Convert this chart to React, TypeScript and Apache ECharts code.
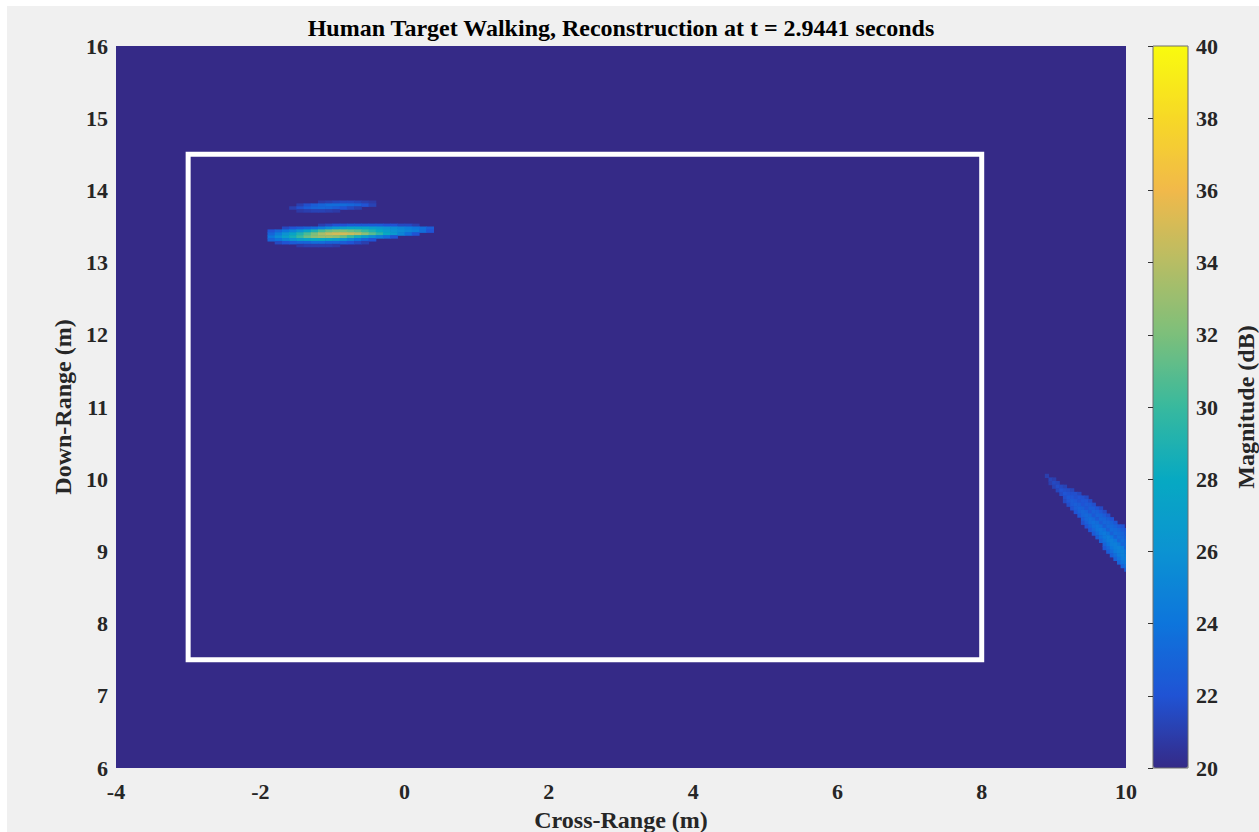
import React, { useEffect, useRef } from "react";
import * as echarts from "echarts";

// Axis ranges and ticks
const xRange = [-4, 10];
const yRange = [6, 16];
const xTickStep = 2;
const yTickStep = 1;
const colorRange = [20, 40];
const colorTickStep = 2;

// Scene boundary drawn as a white box (corners in metres)
const boxX = [-3, -3, 8, 8, -3];
const boxY = [7.5, 14.5, 14.5, 7.5, 7.5];

// Parula colour map stops
const parula = [
  "#352a87", "#2053d4", "#0d75dc", "#0c93d2", "#07a9c2", "#38b99e",
  "#7cbf7b", "#b7bd64", "#f1b94a", "#f7d826", "#f9fb0e",
];

type Row = { y: number; x0: number; v: number[] };

// Main return of the walking target (dB), rows of cells along cross-range
const mainBlobRows: Row[] = [
  { y: 13.52, x0: -1.15, v: [21, 21.5, 22, 22, 22.5, 22.5, 22.5, 22.5, 22.5, 22, 22, 21.5, 21.5, 21] },
  { y: 13.48, x0: -1.65, v: [21.5, 22, 22.5, 23, 23.5, 24.5, 25.5, 26.5, 27, 27.5, 27.5, 27.5, 27, 26.5, 26, 25.5, 25, 24.5, 24, 23.5, 22.5] },
  { y: 13.44, x0: -1.85, v: [22, 23, 24, 25, 26, 27.5, 29, 30.5, 31.5, 32, 32, 31.5, 31, 30, 29, 28, 27, 26, 25.5, 25, 24.5, 23.5, 22] },
  { y: 13.4, x0: -1.85, v: [23, 24.5, 26, 27.5, 29, 30.5, 32, 33.5, 34.5, 35, 35, 34.5, 34, 32.5, 31, 29.5, 28, 26.5, 25, 23.5, 22] },
  { y: 13.36, x0: -1.85, v: [24, 25.5, 27, 28.5, 30, 31.5, 32.5, 33, 33, 32.5, 31.5, 30, 28.5, 27, 25.5, 24.5, 23.5, 22] },
  { y: 13.32, x0: -1.85, v: [23, 24, 25, 26, 27, 27.5, 28, 28, 27.5, 27, 26, 25, 24, 23, 22] },
  { y: 13.28, x0: -1.75, v: [21.5, 22, 22.5, 23, 23, 23.5, 23.5, 23, 23, 22.5, 22, 21.5, 21] },
  { y: 13.24, x0: -1.45, v: [20.8, 21, 21, 21, 21, 20.8] },
];

// Weaker return just above the main one
const upperBlobRows: Row[] = [
  { y: 13.84, x0: -1.15, v: [20.8, 21, 21.3, 21.5, 21.5, 21.3, 21, 20.8] },
  { y: 13.8, x0: -1.45, v: [21, 21.8, 22.5, 23, 23.5, 23.5, 23.5, 23.2, 22.8, 22, 21.2] },
  { y: 13.76, x0: -1.55, v: [21, 21.8, 22.5, 23, 23.2, 23, 22.5, 22, 21.5, 21] },
  { y: 13.72, x0: -1.45, v: [20.8, 21, 21.2, 21.2, 21, 20.8] },
];

// Diagonal sidelobe streak at the right edge (two parallel bands)
const streakRows: Row[] = [
  { y: 10.05, x0: 8.9, v: [21] },
  { y: 10.0, x0: 8.95, v: [21.3, 21] },
  { y: 9.95, x0: 8.95, v: [21, 21.5, 21.3] },
  { y: 9.9, x0: 9.0, v: [21.2, 21.7, 21.5, 21.2] },
  { y: 9.85, x0: 9.05, v: [21.4, 21.9, 21.7, 21.6, 21.3] },
  { y: 9.8, x0: 9.1, v: [21.6, 22.1, 21.9, 21.8, 21.8, 21.4] },
  { y: 9.75, x0: 9.15, v: [21.8, 22.3, 22.1, 21.8, 22, 21.9, 21.5] },
  { y: 9.7, x0: 9.15, v: [21.5, 22.1, 22.5, 22.3, 21.9, 22.2, 22.1, 21.6] },
  { y: 9.65, x0: 9.2, v: [21.7, 22.4, 22.7, 22.5, 22, 22.4, 22.3, 21.8] },
  { y: 9.6, x0: 9.25, v: [21.9, 22.6, 22.9, 22.7, 22.1, 22.6, 22.5, 22, 21.5] },
  { y: 9.55, x0: 9.3, v: [22.1, 22.8, 23.1, 22.9, 22.2, 22.8, 22.7, 22.2, 21.6] },
  { y: 9.5, x0: 9.35, v: [22.3, 23, 23.3, 23.1, 22.3, 23, 22.9, 22.4, 21.8] },
  { y: 9.45, x0: 9.4, v: [22.5, 23.2, 23.5, 23.2, 22.4, 23.1, 23, 22.6, 22] },
  { y: 9.4, x0: 9.4, v: [21.8, 22.7, 23.4, 23.7, 23.4, 22.5, 23.2, 23.1, 22.8, 22.2] },
  { y: 9.35, x0: 9.45, v: [22, 22.9, 23.6, 23.9, 23.5, 22.6, 23.3, 23.2, 22.9, 22.4, 22] },
  { y: 9.3, x0: 9.5, v: [22.2, 23.1, 23.8, 24.1, 23.7, 22.7, 23.4, 23.3, 23, 22.5, 22.2] },
  { y: 9.25, x0: 9.55, v: [22.4, 23.3, 24, 24.3, 23.9, 22.8, 23.5, 23.3, 23, 22.6] },
  { y: 9.2, x0: 9.6, v: [22.6, 23.5, 24.2, 24.5, 24, 22.9, 23.5, 23.2, 22.9] },
  { y: 9.15, x0: 9.65, v: [22.8, 23.7, 24.4, 24.6, 24.1, 23, 23.5, 23.2] },
  { y: 9.1, x0: 9.7, v: [23, 23.9, 24.5, 24.7, 24.2, 23.1, 23.4] },
  { y: 9.05, x0: 9.7, v: [22.3, 23.2, 24.1, 24.6, 24.8, 24.3, 23.2] },
  { y: 9.0, x0: 9.75, v: [22.5, 23.4, 24.3, 24.7, 24.8, 24.3] },
  { y: 8.95, x0: 9.8, v: [22.7, 23.6, 24.4, 24.8, 24.6] },
  { y: 8.9, x0: 9.85, v: [22.9, 23.8, 24.5, 24.7] },
  { y: 8.85, x0: 9.9, v: [23, 23.9, 24.4] },
  { y: 8.8, x0: 9.95, v: [23, 23.8] },
  { y: 8.75, x0: 10.0, v: [22.5] },
];

// Cell sizes (metres) of each reconstruction patch
const blobCell = { w: 0.1, h: 0.04 };
const streakCell = { w: 0.05, h: 0.05 };

const FONT = "'Liberation Serif', 'Times New Roman', serif";
const LABEL_COLOR = "#262626";

function toCells(rows: Row[], cell: { w: number; h: number }) {
  const out: number[][] = [];
  rows.forEach((r) => {
    r.v.forEach((val, i) => {
      out.push([r.x0 + i * cell.w, r.y, val, cell.w, cell.h]);
    });
  });
  return out;
}

export default function App() {
  const ref = useRef<HTMLDivElement>(null);

  useEffect(() => {
    if (!ref.current) return;
    const chart = echarts.init(ref.current, undefined, { renderer: "svg" });

    const cells = [
      ...toCells(mainBlobRows, blobCell),
      ...toCells(upperBlobRows, blobCell),
      ...toCells(streakRows, streakCell),
    ];
    const boxData = boxX.map((x, i) => [x, boxY[i]]);

    const tickLabel = {
      fontFamily: FONT,
      fontWeight: "bold" as const,
      fontSize: 22,
      color: LABEL_COLOR,
    };
    const nameStyle = {
      fontFamily: FONT,
      fontWeight: "bold" as const,
      fontSize: 24,
      color: LABEL_COLOR,
    };

    chart.setOption({
      animation: false,
      backgroundColor: "#f0f0f0",
      graphic: [
        { type: "rect", shape: { x: 0, y: 0, width: 1259, height: 6 }, style: { fill: "#ffffff" } },
        { type: "rect", shape: { x: 0, y: 0, width: 7, height: 832 }, style: { fill: "#ffffff" } },
        {
          type: "text",
          x: 621,
          y: 28,
          style: {
            text: "Human Target Walking, Reconstruction at t = 2.9441 seconds",
            textAlign: "center",
            textVerticalAlign: "middle",
            fontFamily: FONT,
            fontWeight: "bold",
            fontSize: 24,
            fill: "#000000",
          },
        },
      ],
      grid: [
        {
          left: 116,
          top: 46,
          width: 1010,
          height: 722,
          show: true,
          backgroundColor: parula[0],
          borderWidth: 0,
          outerBoundsMode: "none",
          containLabel: false,
        },
        {
          left: 1153,
          top: 46,
          width: 35,
          height: 722,
          show: true,
          backgroundColor: "transparent",
          borderColor: "#6e6e6e",
          borderWidth: 1,
          z: 10,
          outerBoundsMode: "none",
          containLabel: false,
        },
      ],
      xAxis: [
        {
          type: "value",
          gridIndex: 0,
          min: xRange[0],
          max: xRange[1],
          interval: xTickStep,
          axisLine: { show: false },
          axisTick: { show: false },
          splitLine: { show: false },
          axisLabel: { ...tickLabel, margin: 12 },
          name: "Cross-Range (m)",
          nameLocation: "middle",
          nameGap: 40,
          nameTextStyle: nameStyle,
        },
        { type: "value", gridIndex: 1, min: 0, max: 1, show: false },
      ],
      yAxis: [
        {
          type: "value",
          gridIndex: 0,
          min: yRange[0],
          max: yRange[1],
          interval: yTickStep,
          axisLine: { show: false },
          axisTick: { show: false },
          splitLine: { show: false },
          axisLabel: { ...tickLabel, margin: 8 },
          name: "Down-Range (m)",
          nameLocation: "middle",
          nameGap: 38,
          nameRotate: 90,
          nameTextStyle: nameStyle,
        },
        {
          type: "value",
          gridIndex: 1,
          position: "right",
          min: colorRange[0],
          max: colorRange[1],
          interval: colorTickStep,
          axisLine: { show: false },
          axisTick: { show: true, inside: true, length: 5, lineStyle: { color: "#333333", width: 1 } },
          splitLine: { show: false },
          axisLabel: { ...tickLabel, margin: 8 },
          name: "Magnitude (dB)",
          nameLocation: "middle",
          nameGap: 46,
          nameRotate: 90,
          nameTextStyle: nameStyle,
          z: 10,
        },
      ],
      visualMap: {
        type: "continuous",
        min: colorRange[0],
        max: colorRange[1],
        dimension: 2,
        seriesIndex: 0,
        inRange: { color: parula },
        orient: "vertical",
        left: 1153,
        top: 46,
        itemWidth: 35,
        itemHeight: 722,
        padding: 0,
        calculable: false,
        hoverLink: false,
        realtime: false,
      },
      series: [
        {
          type: "custom",
          xAxisIndex: 0,
          yAxisIndex: 0,
          clip: true,
          silent: true,
          data: cells,
          encode: { x: 0, y: 1 },
          renderItem: (_params: any, api: any) => {
            const x = api.value(0);
            const y = api.value(1);
            const w = api.value(3);
            const h = api.value(4);
            const a = api.coord([x - w / 2, y + h / 2]);
            const b = api.coord([x + w / 2, y - h / 2]);
            return {
              type: "rect",
              shape: { x: a[0], y: a[1], width: b[0] - a[0] + 0.6, height: b[1] - a[1] + 0.6 },
              style: { fill: api.visual("color") },
            };
          },
          z: 2,
        },
        {
          type: "line",
          xAxisIndex: 0,
          yAxisIndex: 0,
          data: boxData,
          symbol: "none",
          silent: true,
          lineStyle: { color: "#ffffff", width: 5, join: "miter", cap: "square" },
          z: 5,
        },
      ],
    });

    return () => chart.dispose();
  }, []);

  return (
    <div
      ref={ref}
      style={{ position: "fixed", left: 0, top: 0, width: 1259, height: 832 }}
    />
  );
}
